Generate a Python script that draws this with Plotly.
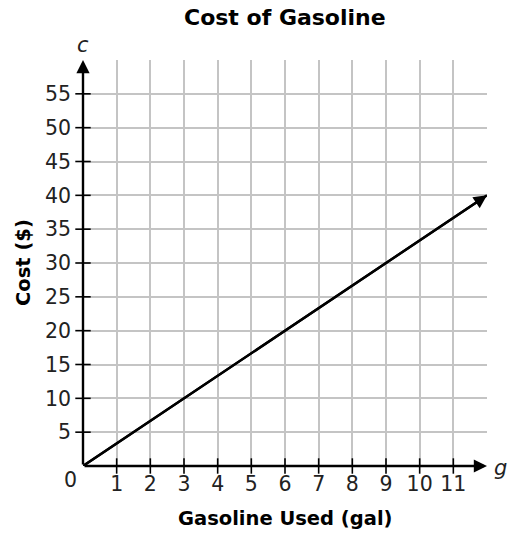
import plotly.graph_objects as go

# Data
gallons = [0, 12]
cost = [0, 40]
x_ticks = [1, 2, 3, 4, 5, 6, 7, 8, 9, 10, 11]
y_ticks = [5, 10, 15, 20, 25, 30, 35, 40, 45, 50, 55]
x_grid = x_ticks + [12]
y_grid = y_ticks + [60]

FONT = "DejaVu Sans"
TXT = "#222222"
TICKFONT = dict(family=FONT, size=20.5, color=TXT)

fig = go.Figure()

# tick marks crossing the axes
fig.add_trace(go.Scatter(
    x=x_ticks, y=[0] * len(x_ticks), mode="markers",
    marker=dict(symbol="line-ns", size=11, line=dict(color="black", width=1.6)),
    hoverinfo="skip", showlegend=False, cliponaxis=False))
fig.add_trace(go.Scatter(
    x=[0] * len(y_ticks), y=y_ticks, mode="markers",
    marker=dict(symbol="line-ew", size=11, line=dict(color="black", width=1.6)),
    hoverinfo="skip", showlegend=False, cliponaxis=False))

# the cost line
fig.add_trace(go.Scatter(
    x=gallons, y=cost, mode="lines",
    line=dict(color="black", width=2.4),
    showlegend=False, cliponaxis=False))

fig.update_layout(
    width=508, height=533,
    margin=dict(l=83, r=21, t=60, b=67),
    paper_bgcolor="white", plot_bgcolor="white",
    font=dict(family=FONT, size=20.5, color=TXT),
    showlegend=False,
    xaxis=dict(range=[0, 12], tickvals=x_grid,
               ticktext=[str(v) for v in x_ticks] + [""],
               tickfont=TICKFONT,
               showgrid=True, gridcolor="#c4c4c4", gridwidth=1.5,
               zeroline=False, showline=False, ticks="",
               ticklabelstandoff=3, fixedrange=True, automargin=False),
    yaxis=dict(range=[0, 60], tickvals=y_grid,
               ticktext=[str(v) for v in y_ticks] + [""],
               tickfont=TICKFONT,
               showgrid=True, gridcolor="#c4c4c4", gridwidth=1.5,
               zeroline=False, showline=False, ticks="",
               ticklabelstandoff=11, fixedrange=True, automargin=False),
)

# arrowhead at the end of the cost line
fig.add_annotation(x=gallons[-1], y=cost[-1], ax=gallons[0], ay=cost[0],
                   xref="x", yref="y", axref="x", ayref="y",
                   text="", showarrow=True, arrowhead=2, arrowsize=1.1,
                   arrowwidth=2.4, arrowcolor="black")

# axes arrows
fig.add_annotation(x=12, y=0, ax=0, ay=0, xref="x", yref="y", axref="x", ayref="y",
                   text="", showarrow=True, arrowhead=2, arrowsize=1.1,
                   arrowwidth=2.4, arrowcolor="black")
fig.add_annotation(x=0, y=60, ax=0, ay=0, xref="x", yref="y", axref="x", ayref="y",
                   text="", showarrow=True, arrowhead=2, arrowsize=1.1,
                   arrowwidth=2.4, arrowcolor="black")

# labels
fig.add_annotation(text="<b>Cost of Gasoline</b>", xref="paper", yref="paper",
                   x=0.5, y=1, yshift=43, xanchor="center", yanchor="middle",
                   showarrow=False, font=dict(family=FONT, size=22, color="black"))
fig.add_annotation(text="<i>c</i>", xref="x", yref="paper", x=0, y=1, yshift=15,
                   xanchor="center", yanchor="middle",
                   showarrow=False, font=dict(family=FONT, size=21, color=TXT))
fig.add_annotation(text="<i>g</i>", xref="paper", yref="y", x=1, y=0, xshift=13, yshift=-2,
                   xanchor="center", yanchor="middle",
                   showarrow=False, font=dict(family=FONT, size=21, color=TXT))
fig.add_annotation(text="0", xref="x", yref="y", x=0, y=0, xshift=-13, yshift=-14,
                   xanchor="center", yanchor="middle",
                   showarrow=False, font=dict(family=FONT, size=20.5, color=TXT))
fig.add_annotation(text="<b>Gasoline Used (gal)</b>", xref="paper", yref="paper",
                   x=0.5, y=0, yshift=-52, xanchor="center", yanchor="middle",
                   showarrow=False, font=dict(family=FONT, size=19.5, color="black"))
fig.add_annotation(text="<b>Cost ($)</b>", xref="paper", yref="paper",
                   x=0, y=0.5, xshift=-60, xanchor="center", yanchor="middle",
                   textangle=-90, showarrow=False,
                   font=dict(family=FONT, size=19.5, color="black"))

fig.write_html(
    "out.html",
    config={"displayModeBar": False},
    post_script="document.body.style.margin='0';document.body.style.overflow='hidden';",
)
